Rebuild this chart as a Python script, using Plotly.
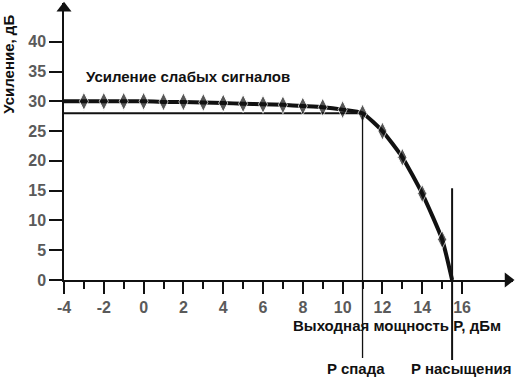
import plotly.graph_objects as go

# ---- data ----
power_dbm = [-4, -3, -2, -1, 0, 1, 2, 3, 4, 5, 6, 7, 8, 9, 10, 11, 12, 13, 14, 15, 15.5]
gain_db = [30, 30, 30, 30, 30, 29.9, 29.9, 29.8, 29.7, 29.6, 29.5, 29.4, 29.2, 29.0, 28.6, 28.0, 25.0, 20.6, 14.5, 6.8, 0]
marker_sizes = [0] + [13] * 19 + [0]

p_compression = 11      # P спада
p_saturation = 15.5     # P насыщения
gain_compression = 28

x_tick_vals = [-4, -2, 0, 2, 4, 6, 8, 10, 12, 14, 16]
x_tick_text = ["-4", "-2", "0", "2", "4", "6", "8", "10", "12", "14", "16"]
x_minor_vals = [-3, -1, 1, 3, 5, 7, 9, 11, 13, 15]
y_tick_vals = [0, 5, 10, 15, 20, 25, 30, 35, 40]

X_MIN, X_MAX = -4, 18.56
Y_MIN, Y_MAX = 0, 46.5
PLOT_H = 277

FONT = "Liberation Sans, Arial, sans-serif"
TICK_COLOR = "#5a5a5a"

fig = go.Figure()

# compression reference line at 28 dB
fig.add_trace(go.Scatter(
    x=[X_MIN, p_compression], y=[gain_compression, gain_compression],
    mode="lines", line=dict(color="#111", width=2), hoverinfo="skip", showlegend=False))

# gain curve
fig.add_trace(go.Scatter(
    x=power_dbm, y=gain_db, mode="lines+markers",
    line=dict(color="#111", width=4, shape="spline", smoothing=0.5),
    marker=dict(symbol="diamond-tall", size=marker_sizes, color="#111"),
    showlegend=False, cliponaxis=False))

# axis arrowheads
fig.add_trace(go.Scatter(
    x=[X_MAX - 0.25], y=[0], mode="markers",
    marker=dict(symbol="triangle-right", size=13, color="#111"),
    cliponaxis=False, showlegend=False, hoverinfo="skip"))
fig.add_trace(go.Scatter(
    x=[X_MIN], y=[Y_MAX - 0.9], mode="markers",
    marker=dict(symbol="triangle-up", size=13, color="#111"),
    cliponaxis=False, showlegend=False, hoverinfo="skip"))


def to_paper(v):
    return (v - Y_MIN) / (Y_MAX - Y_MIN)


# vertical marker lines
fig.add_shape(type="line", xref="x", yref="paper",
              x0=p_compression, x1=p_compression,
              y0=to_paper(gain_compression), y1=-78 / PLOT_H,
              line=dict(color="#111", width=1.3))
fig.add_shape(type="line", xref="x", yref="paper",
              x0=p_saturation, x1=p_saturation,
              y0=to_paper(15.4), y1=-80 / PLOT_H,
              line=dict(color="#111", width=2))

fig.add_annotation(x=-3, y=34.1, xref="x", yref="y", text="Усиление слабых сигналов",
                   showarrow=False, xanchor="left", yanchor="middle",
                   font=dict(family=FONT, size=15, color="#111", weight="bold"))
fig.add_annotation(x=-0.123, y=0.78, xref="paper", yref="paper", text="Усиление, дБ",
                   textangle=-90, showarrow=False, xanchor="center", yanchor="middle",
                   font=dict(family=FONT, size=15, color="#111", weight="bold"))
fig.add_annotation(x=0.977, y=-0.163, xref="paper", yref="paper",
                   text="Выходная мощность P, дБм",
                   showarrow=False, xanchor="right", yanchor="middle",
                   font=dict(family=FONT, size=15, color="#111", weight="bold"))
fig.add_annotation(x=p_compression, y=-0.318, xref="x", yref="paper", text="P спада",
                   showarrow=False, xanchor="center", yanchor="middle", xshift=-7,
                   font=dict(family=FONT, size=15, color="#111", weight="bold"))
fig.add_annotation(x=p_saturation, y=-0.318, xref="x", yref="paper", text="P насыщения",
                   showarrow=False, xanchor="center", yanchor="middle", xshift=9,
                   font=dict(family=FONT, size=15, color="#111", weight="bold"))

fig.update_xaxes(
    range=[X_MIN, X_MAX], showgrid=False, zeroline=False,
    showline=True, linecolor="#111", linewidth=1.5,
    tickmode="array", tickvals=x_tick_vals, ticktext=x_tick_text,
    ticks="outside", ticklen=12, tickwidth=2, tickcolor="#111",
    tickfont=dict(family=FONT, size=16, color=TICK_COLOR, weight="bold"),
    minor=dict(tickmode="array", tickvals=x_minor_vals, ticks="outside",
               ticklen=7, tickwidth=2, tickcolor="#111", showgrid=False),
)
fig.update_yaxes(
    range=[Y_MIN, Y_MAX], showgrid=False, zeroline=False,
    showline=True, linecolor="#111", linewidth=1.5,
    tickmode="array", tickvals=y_tick_vals, ticks="outside", ticklen=13,
    tickwidth=2, tickcolor="#111",
    tickfont=dict(family=FONT, size=16, color=TICK_COLOR, weight="bold"),
)

fig.update_layout(
    width=518, height=380,
    margin=dict(l=64, r=5, t=3, b=100),
    paper_bgcolor="white", plot_bgcolor="white",
    showlegend=False,
)

fig.write_html("out.html", config={"displayModeBar": False},
               post_script="document.body.style.margin='0';document.body.style.overflow='hidden';")
